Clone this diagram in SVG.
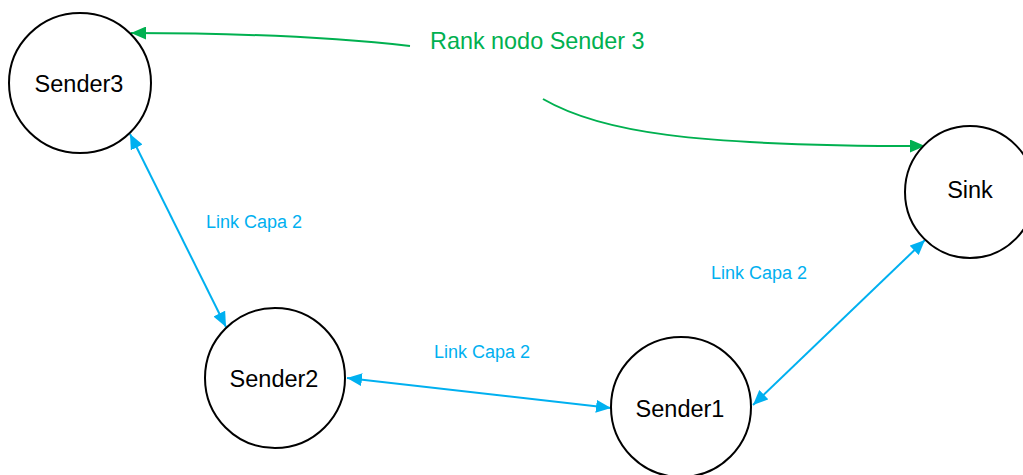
<svg xmlns="http://www.w3.org/2000/svg" width="1023" height="475" viewBox="0 0 1023 475">
  <style>
    .node { fill: #ffffff; stroke: #000000; stroke-width: 2; }
    .label { font-family: "Liberation Sans", Arial, sans-serif; font-size: 23.5px; fill: #000000; text-anchor: middle; }
    .link { stroke: #00B0F0; stroke-width: 2; fill: none; marker-start: url(#blueHead); marker-end: url(#blueHead); }
    .rank { stroke: #00B050; stroke-width: 2; fill: none; marker-end: url(#greenHead); }
    .linkText { font-family: "Liberation Sans", Arial, sans-serif; font-size: 18px; fill: #00B0F0; }
    .rankText { font-family: "Liberation Sans", Arial, sans-serif; font-size: 23.4px; fill: #00B050; }
  </style>
  <defs>
    <marker id="blueHead" viewBox="0 0 15 13" refX="15" refY="6.5" markerWidth="15" markerHeight="13" markerUnits="userSpaceOnUse" orient="auto-start-reverse">
      <path d="M0,0 L15,6.5 L0,13 Z" fill="#00B0F0"/>
    </marker>
    <marker id="greenHead" viewBox="0 0 15 13" refX="15" refY="6.5" markerWidth="15" markerHeight="13" markerUnits="userSpaceOnUse" orient="auto">
      <path d="M0,0 L15,6.5 L0,13 Z" fill="#00B050"/>
    </marker>
  </defs>

  <rect width="1023" height="475" fill="#ffffff"/>

  <!-- connectors -->
  <g id="connectors">
    <line class="link" x1="130" y1="134" x2="226" y2="327"/>
    <line class="link" x1="347" y1="378" x2="611" y2="408"/>
    <line class="link" x1="753" y1="405" x2="925" y2="240"/>
    <path class="rank" d="M410,46 C330,37 230,33 131,33"/>
    <path class="rank" d="M543,99 C600,132 690,146 925,146"/>
    <text class="linkText" x="206" y="228">Link Capa 2</text>
    <text class="linkText" x="434" y="358">Link Capa 2</text>
    <text class="linkText" x="711" y="279">Link Capa 2</text>
    <text class="rankText" x="430" y="49">Rank nodo Sender 3</text>
  </g>

  <!-- nodes -->
  <g id="sender3">
    <ellipse class="node" cx="80" cy="83" rx="71" ry="70"/>
    <text class="label" x="79" y="92">Sender3</text>
  </g>
  <g id="sender2">
    <ellipse class="node" cx="275" cy="378" rx="70" ry="70"/>
    <text class="label" x="274" y="387">Sender2</text>
  </g>
  <g id="sender1">
    <ellipse class="node" cx="681" cy="407" rx="70" ry="70"/>
    <text class="label" x="680" y="417">Sender1</text>
  </g>
  <g id="sink">
    <ellipse class="node" cx="970" cy="192" rx="65" ry="66"/>
    <text class="label" x="970" y="198">Sink</text>
  </g>
</svg>
